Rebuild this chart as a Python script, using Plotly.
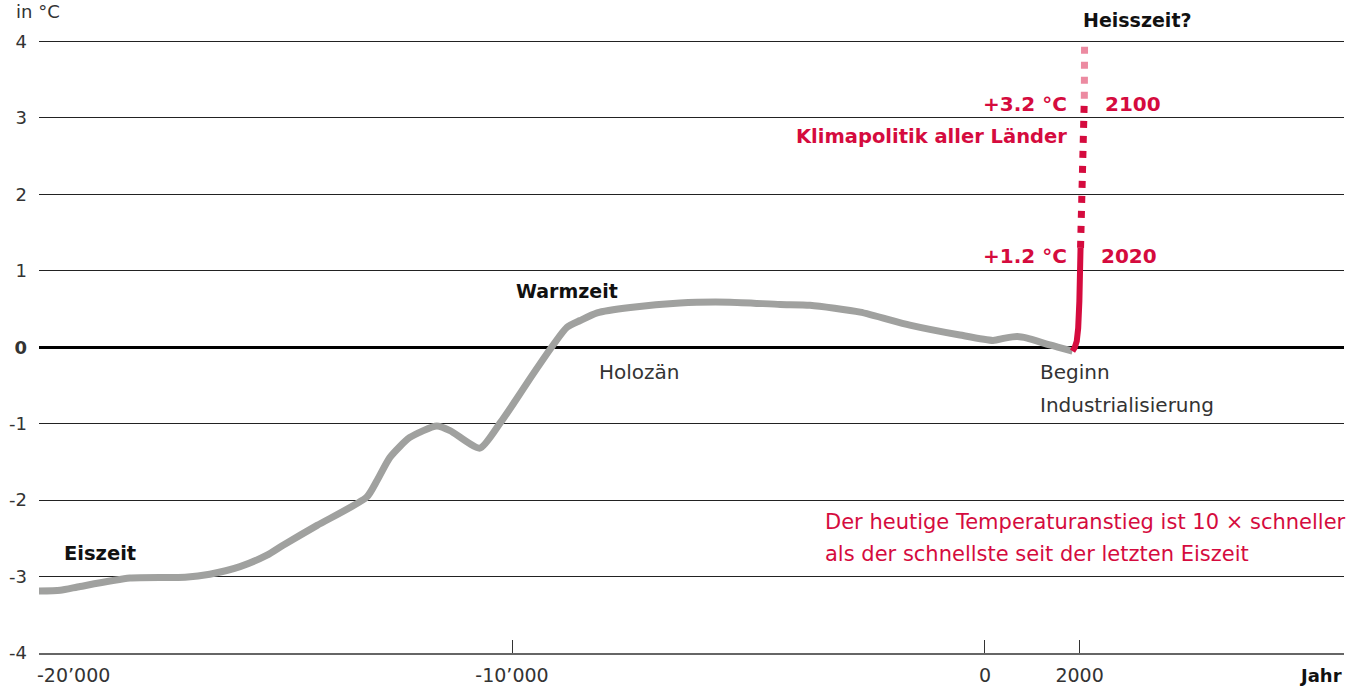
import plotly.graph_objects as go

# Temperaturverlauf seit der letzten Eiszeit (Abweichung in °C)
hist_years = [-20000, -19550, -19130, -18080, -16910, -16390, -15750, -15180, -14840,
              -14120, -13070, -12850, -12580, -12160, -11590, -11310, -10680, -10250,
              -9940, -9620, -9130, -8840, -8560, -8200, -7500, -6450, -5390, -4330,
              -3700, -2640, -1590, -530, 170, 420, 680, 890, 1370, 1850]
hist_temp = [-3.19, -3.18, -3.13, -3.02, -3.01, -2.97, -2.87, -2.72, -2.59,
             -2.33, -1.96, -1.74, -1.44, -1.18, -1.03, -1.09, -1.32, -0.99,
             -0.71, -0.41, 0.03, 0.26, 0.35, 0.45, 0.52, 0.58, 0.59, 0.56,
             0.55, 0.46, 0.29, 0.16, 0.09, 0.12, 0.14, 0.12, 0.03, -0.05]

# Anstieg seit der Industrialisierung
ind_years = [1850, 1900, 1940, 1970, 1995, 2020]
ind_temp = [-0.05, 0.0, 0.08, 0.25, 0.6, 1.3]

# Klimapolitik aller Länder bis 2100
proj_years = [2020, 2100]
proj_temp = [1.3, 3.25]

# Heisszeit?
hot_years = [2100, 2105]
hot_temp = [3.25, 3.97]

x_ticks = [-20000, -10000, 0, 2000]
x_labels = ["", "-10’000", "0", "2000"]   # first label is drawn left-aligned below
x_first_label = "-20’000"
y_ticks = [-4, -3, -2, -1, 0, 1, 2, 3, 4]
y_labels = ["-4", "-3", "-2", "-1", "<b>0</b>", "1", "2", "3", "4"]

RED = "#d50b3e"
PINK = "#ec8aa1"
GREY = "#a0a19f"
FONT = "DejaVu Sans"

fig = go.Figure()
fig.add_trace(go.Scatter(x=hist_years, y=hist_temp, mode="lines",
                         line=dict(color=GREY, width=7, shape="spline", smoothing=0.6),
                         hoverinfo="skip"))
fig.add_trace(go.Scatter(x=ind_years, y=ind_temp, mode="lines",
                         line=dict(color=RED, width=6), hoverinfo="skip"))
fig.add_trace(go.Scatter(x=proj_years, y=proj_temp, mode="lines",
                         line=dict(color=RED, width=7, dash="7px,8px"), hoverinfo="skip"))
fig.add_trace(go.Scatter(x=hot_years, y=hot_temp, mode="lines",
                         line=dict(color=PINK, width=7, dash="7px,8px"), hoverinfo="skip"))


def note(text, x, y, color="#111", size=19, weight=400, anchor="left", xref="x", yref="y"):
    fig.add_annotation(x=x, y=y, xref=xref, yref=yref, text=text, showarrow=False,
                       xanchor=anchor, yanchor="middle",
                       font=dict(family=FONT, size=size, color=color, weight=weight))


note("Heisszeit?", 2040, 1.033, weight=700, yref="paper")
note("+3.2 °C", 1780, 3.18, color=RED, size=20, weight=700, anchor="right")
note("2100", 2500, 3.18, color=RED, size=20, weight=700)
note("Klimapolitik aller Länder", 1780, 2.76, color=RED, size=19.5, weight=700, anchor="right")
note("+1.2 °C", 1780, 1.20, color=RED, size=20, weight=700, anchor="right")
note("2020", 2410, 1.20, color=RED, size=20, weight=700)
note("Warmzeit", -9960, 0.73, weight=700)
note("Holozän", -8200, -0.33, color="#333", size=20)
note("Beginn", 1120, -0.33, color="#333", size=20)
note("Industrialisierung", 1120, -0.75, color="#333", size=20)
note("Eiszeit", -19510, -2.70, size=19.5, weight=700)
note("Der heutige Temperaturanstieg ist 10 × schneller", -3420, -2.29, color=RED, size=21)
note("als der schnellste seit der letzten Eiszeit", -3420, -2.70, color=RED, size=21)
note(x_first_label, -0.003, -0.036, color="#333", xref="paper", yref="paper")
note("in °C", -0.019, 1.046, size=18, color="#333", xref="paper", yref="paper")
note("Jahr", 1, -0.0375, size=18, weight=700, anchor="right", xref="paper", yref="paper")

fig.update_xaxes(range=[-20000, 7590], tickvals=x_ticks, ticktext=x_labels, automargin=False,
                 showgrid=False, zeroline=False, showline=True, linecolor="#666", linewidth=1.5,
                 ticks="inside", ticklen=13, tickcolor="#333", tickwidth=1,
                 ticklabelstandoff=4,
                 tickfont=dict(family=FONT, size=19, color="#333"))
fig.update_yaxes(range=[-4, 4.02], tickvals=y_ticks, ticktext=y_labels, automargin=False,
                 showgrid=True, gridcolor="#222", gridwidth=1,
                 zeroline=True, zerolinecolor="#000", zerolinewidth=2.5,
                 showline=False, ticks="", ticklabelstandoff=11,
                 tickfont=dict(family=FONT, size=18, color="#333"))

fig.update_layout(width=1357, height=686, showlegend=False,
                  plot_bgcolor="white", paper_bgcolor="white",
                  margin=dict(l=39, r=13, t=40, b=33))

# the page's default body margin would shift the chart by 8px
fig.write_html("out.html", config={"displayModeBar": False},
               post_script="document.body.style.margin='0';")
